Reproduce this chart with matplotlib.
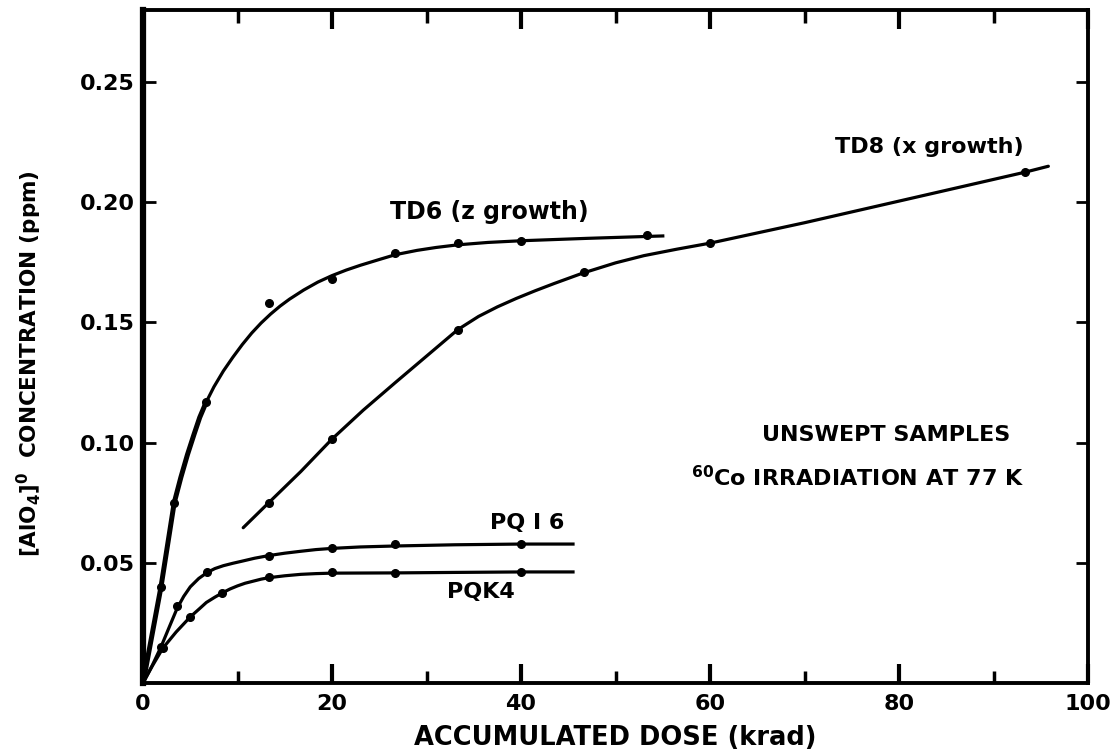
import numpy as np
import matplotlib.pyplot as plt
from matplotlib.ticker import MultipleLocator

plt.rcParams['font.family'] = 'DejaVu Sans'
plt.rcParams['font.weight'] = 'bold'
plt.rcParams['mathtext.fontset'] = 'custom'
plt.rcParams['mathtext.rm'] = 'DejaVu Sans:bold'
plt.rcParams['mathtext.bf'] = 'DejaVu Sans:bold'
plt.rcParams['mathtext.default'] = 'bf'

# measured points (dose in krad, concentration in ppm)
td6_dose = [1.9, 3.3, 6.7, 13.3, 20, 26.7, 33.3, 40, 53.3]
td6_conc = [0.040, 0.075, 0.117, 0.158, 0.168, 0.179, 0.183, 0.184, 0.1865]

td8_dose = [13.3, 20, 33.3, 46.7, 60, 93.3]
td8_conc = [0.075, 0.1015, 0.147, 0.171, 0.183, 0.2125]

pqi6_dose = [1.9, 3.6, 6.8, 13.3, 20, 26.7, 40]
pqi6_conc = [0.015, 0.032, 0.046, 0.053, 0.056, 0.0578, 0.0578]

pqk4_dose = [2.1, 5, 8.4, 13.3, 20, 26.7, 40]
pqk4_conc = [0.0145, 0.0275, 0.0375, 0.044, 0.046, 0.0458, 0.0462]

# hand-drawn guide curves through the data
td6_fit_x = [0, 1.9, 3.3, 4.0, 4.7, 5.4, 6.0, 6.7, 7.5, 8.5, 9.5, 10.5, 11.5,
             12.5, 13.5, 14.5, 15.5, 17, 18.5, 20, 21.5, 23, 25, 26.7, 29,
             31, 33.3, 36.5, 40, 47, 55]
td6_fit_y = [0, 0.040, 0.075, 0.0855, 0.095, 0.1035, 0.1105, 0.117, 0.1232,
             0.1298, 0.1355, 0.1408, 0.1456, 0.1498, 0.1535, 0.1568, 0.1597,
             0.1635, 0.1668, 0.1695, 0.1718, 0.1738, 0.1762, 0.1782, 0.1800,
             0.1812, 0.1823, 0.1833, 0.1840, 0.1850, 0.1860]

td8_fit_x = [10.6, 13.3, 16.7, 20, 23.3, 26.7, 30, 33.3, 35.5, 37.5, 39.5,
             41.5, 43.5, 46.5, 50, 53, 56.5, 60, 70, 80, 93.3, 95.8]
td8_fit_y = [0.0646, 0.075, 0.088, 0.1015, 0.1135, 0.125, 0.136, 0.147,
             0.1525, 0.1565, 0.1600, 0.1632, 0.1662, 0.1705, 0.1748, 0.1778,
             0.1805, 0.1830, 0.1915, 0.2005, 0.2125, 0.2150]

pqi6_fit_x = [0, 1.0, 1.9, 2.8, 3.6, 4.3, 5.0, 5.9, 6.8, 7.6, 8.5, 9.5, 10.5,
              11.8, 13.3, 15, 16.7, 18.3, 20, 23, 26.7, 33, 40, 45.5]
pqi6_fit_y = [0, 0.0075, 0.015, 0.0235, 0.0310, 0.0360, 0.0400, 0.0435,
              0.0460, 0.0476, 0.0488, 0.0498, 0.0507, 0.0519, 0.0530, 0.0540,
              0.0548, 0.0555, 0.0560, 0.0566, 0.0570, 0.0575, 0.0578, 0.0578]

pqk4_fit_x = [0, 1.0, 2.1, 3.5, 5.0, 6.0, 6.7, 7.6, 8.4, 9.2, 10.0, 10.8,
              11.7, 12.5, 13.3, 15, 16.7, 18.3, 20, 26.7, 33, 40, 45.5]
pqk4_fit_y = [0, 0.0072, 0.0145, 0.0212, 0.0275, 0.0310, 0.0335, 0.0357,
              0.0375, 0.0391, 0.0404, 0.0415, 0.0424, 0.0432, 0.0438, 0.0446,
              0.0452, 0.0455, 0.0457, 0.0458, 0.0460, 0.0462, 0.0462]

fig = plt.figure(figsize=(11.14, 7.54), dpi=100)
ax = fig.add_axes([0.1284, 0.0942, 0.8483, 0.8925])

lw = 2.3
ax.plot(td6_fit_x, td6_fit_y, 'k-', lw=lw, solid_joinstyle='round')
ax.plot(td6_fit_x[:8], td6_fit_y[:8], 'k-', lw=3.6, solid_joinstyle='round')
ax.plot(td8_fit_x, td8_fit_y, 'k-', lw=lw, solid_capstyle='round',
        solid_joinstyle='round')
ax.plot(pqi6_fit_x, pqi6_fit_y, 'k-', lw=lw, solid_joinstyle='round')
ax.plot(pqk4_fit_x, pqk4_fit_y, 'k-', lw=lw, solid_joinstyle='round')

for xs, ys in [(td6_dose, td6_conc), (td8_dose, td8_conc),
               (pqi6_dose, pqi6_conc), (pqk4_dose, pqk4_conc)]:
    ax.plot(xs, ys, 'o', color='k', ms=5.5)

ax.set_xlim(0, 100)
ax.set_ylim(0, 0.28)

ax.xaxis.set_major_locator(MultipleLocator(20))
ax.xaxis.set_minor_locator(MultipleLocator(10))
ax.set_yticks([0.05, 0.10, 0.15, 0.20, 0.25])
ax.set_yticklabels(['0.05', '0.10', '0.15', '0.20', '0.25'])
ax.tick_params(axis='x', which='major', direction='in', length=14, width=3,
               top=True, labelsize=16, pad=8)
ax.tick_params(axis='x', which='minor', direction='in', length=9, width=2.5,
               top=True)
ax.tick_params(axis='y', which='major', direction='in', length=9, width=2,
               right=True, labelsize=16, pad=6)
for lab in ax.get_xticklabels() + ax.get_yticklabels():
    lab.set_fontweight('bold')

for side in ['top', 'bottom', 'right']:
    ax.spines[side].set_linewidth(2.8)
ax.spines['left'].set_linewidth(4.5)

ax.set_xlabel('ACCUMULATED DOSE (krad)', fontsize=18.5, fontweight='bold',
              labelpad=8)
ax.set_ylabel(r'$\left[\mathbf{AlO_4}\right]^{\mathbf{0}}$  CONCENTRATION (ppm)',
              fontsize=15.5, fontweight='bold', labelpad=14)
ax.yaxis.set_label_coords(-0.105, 0.475)

txt = dict(fontsize=16, fontweight='bold', ha='center', va='center')
ax.text(36.6, 0.196, 'TD6 (z growth)', fontsize=17, fontweight='bold',
        ha='center', va='center')
ax.text(83.2, 0.223, 'TD8 (x growth)', **txt)
ax.text(40.6, 0.0667, 'PQ I 6', **txt)
ax.text(35.8, 0.038, 'PQK4', **txt)
ax.text(78.6, 0.1033, 'UNSWEPT SAMPLES', **txt)
ax.text(75.6, 0.0855, r'$^{\mathbf{60}}$Co IRRADIATION AT 77 K', **txt)

fig.savefig('out.png', dpi=100)
